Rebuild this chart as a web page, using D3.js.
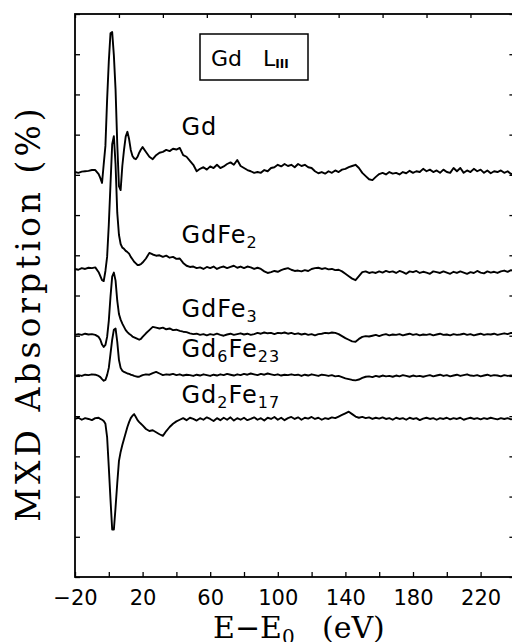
<!DOCTYPE html>
<html>
<head>
<meta charset="utf-8">
<script src="https://cdn.jsdelivr.net/npm/d3@7/dist/d3.min.js"></script>
<style>
  body { margin: 0; background: #fff; }
  svg { display: block; }
</style>
</head>
<body>
<svg id="chart"></svg>
<script>
// photon energy relative to the Gd L3 edge (eV), shared by all spectra
var energy = [
  -20, -18, -16, -14, -12, -10, -8, -6,
  -5, -4, -3, -2, -1, 0, 1, 2, 3, 4, 5, 6, 7, 8, 9, 10, 11, 12, 13, 14, 15, 16, 17, 18, 19, 20,
  22, 24, 26, 28, 30, 32, 34, 36, 38, 40,
  42, 44, 46, 48, 50, 52, 54, 56, 58, 60,
  62, 64, 66, 68, 70, 72, 74, 76, 78, 80,
  82, 84, 86, 88, 90, 92, 94, 96, 98, 100,
  102, 104, 106, 108, 110, 112, 114, 116, 118, 120,
  122, 124, 126, 128, 130, 132, 134, 136, 138, 140,
  142, 144, 146, 148, 150, 152, 154, 156, 158, 160,
  162, 164, 166, 168, 170, 172, 174, 176, 178, 180,
  182, 184, 186, 188, 190, 192, 194, 196, 198, 200,
  202, 204, 206, 208, 210, 212, 214, 216, 218, 220,
  222, 224, 226, 228, 230, 232, 234, 236, 238, 240
];

// MXD signal of each sample, relative to its own baseline
var gd = [
  0.00, -0.02, 0.01, 0.02, 0.03, 0.05, 0.05, -0.05,
  -0.15, -0.27, 0.2, 0.65, 1.8, 2.75, 3.45, 3.48, 2.9, 2.05, 0.7, -0.35, -0.45, 0.15, 0.55, 0.88, 1.0, 0.82, 0.55, 0.4, 0.34, 0.32, 0.38, 0.48, 0.56, 0.62,
  0.5, 0.38, 0.32, 0.42, 0.48, 0.5, 0.55, 0.52, 0.58, 0.56,
  0.6, 0.42, 0.38, 0.28, 0.18, 0.02, 0.08, 0.12, 0.06, 0.14,
  0.1, 0.18, 0.1, 0.14, 0.2, 0.24, 0.18, 0.3, 0.15, 0.1,
  0.05, 0.02, -0.02, 0.0, -0.02, 0.05, 0.02, 0.1, 0.12, 0.18,
  0.14, 0.2, 0.15, 0.18, 0.12, 0.2, 0.15, 0.18, 0.12, 0.1,
  0.02, -0.03, 0.0, -0.04, 0.02, -0.02, 0.04, 0.0, 0.06, 0.08,
  0.12, 0.15, 0.18, 0.1, -0.02, -0.1, -0.18, -0.2, -0.12, -0.05,
  -0.02, -0.06, 0.0, -0.04, -0.02, -0.06, 0.0, -0.03, 0.03, -0.02,
  0.02, 0.0, 0.08, 0.02, 0.06, 0.0, 0.04, -0.02, 0.06, 0.0,
  -0.02, 0.1, 0.02, 0.1, -0.02, 0.04, 0.0, 0.08, 0.02, 0.06,
  -0.02, 0.04, -0.03, 0.02, 0.0, 0.04, -0.02, 0.02, -0.05, -0.02
];

var gdFe2 = [
  0.0, -0.02, 0.02, 0.0, 0.03, 0.02, 0.04, -0.08,
  -0.18, -0.28, -0.3, -0.05, 0.3, 1.1, 2.1, 3.1, 3.3, 2.6, 1.4, 0.85, 0.62, 0.53, 0.5, 0.45, 0.42, 0.38, 0.3, 0.24, 0.18, 0.14, 0.1, 0.1, 0.12, 0.16,
  0.26, 0.4, 0.36, 0.33, 0.34, 0.3, 0.33, 0.28, 0.3, 0.25,
  0.26, 0.15, 0.08, 0.05, 0.06, 0.02, 0.04, 0.0, 0.05, 0.02,
  0.06, 0.0, 0.04, 0.06, 0.02, 0.05, 0.08, 0.03, 0.06, 0.02,
  0.06, 0.04, 0.0, 0.03, 0.0, -0.06, -0.1, -0.08, -0.05, -0.07,
  -0.03, 0.0, 0.02, -0.02, -0.05, -0.04, -0.06, -0.03, -0.05, 0.0,
  0.02, 0.03, 0.0, 0.02, -0.01, 0.0, -0.03, -0.02, -0.06, -0.12,
  -0.18, -0.24, -0.28, -0.18, -0.08, -0.06, -0.1, -0.08, -0.1, -0.06,
  -0.09, -0.05, -0.08, -0.06, -0.1, -0.05, -0.08, -0.12, -0.06, -0.08,
  -0.05, -0.1, -0.07, -0.09, -0.12, -0.06, -0.08, -0.1, -0.06, -0.09,
  -0.12, -0.07, -0.1, -0.06, -0.09, -0.12, -0.08, -0.1, -0.05, -0.09,
  -0.11, -0.06, -0.09, -0.07, -0.1, -0.06, -0.04, -0.07, -0.03, -0.06
];

var gdFe3 = [
  0.0, 0.02, 0.0, 0.03, 0.01, 0.02, 0.0, -0.05,
  -0.12, -0.24, -0.3, -0.25, -0.05, 0.35, 0.95, 1.45, 1.55, 1.35, 0.85, 0.52, 0.38, 0.28, 0.2, 0.12, 0.07, 0.03, 0.0, -0.04, -0.06, -0.08, -0.1, -0.12, -0.1, -0.05,
  0.04, 0.12, 0.2, 0.18, 0.16, 0.18, 0.14, 0.16, 0.12, 0.13,
  0.1, 0.08, 0.07, 0.04, 0.02, 0.03, 0.0, 0.02, -0.01, 0.02,
  0.0, 0.03, 0.0, -0.02, 0.01, 0.03, 0.0, 0.02, 0.04, 0.01,
  0.03, 0.0, 0.02, 0.05, 0.03, 0.06, 0.04, 0.05, 0.02, 0.05,
  0.04, 0.06, 0.03, 0.05, 0.02, 0.04, 0.01, 0.03, 0.0, 0.02,
  -0.01, 0.02, 0.03, 0.05, 0.04, 0.06, 0.05, 0.02, -0.03, -0.08,
  -0.12, -0.16, -0.17, -0.1, -0.05, -0.03, -0.04, -0.02, 0.0, -0.03,
  0.0, 0.02, -0.01, 0.01, 0.0, 0.02, -0.01, 0.01, 0.03, 0.0,
  0.02, -0.01, 0.01, 0.0, 0.02, -0.01, 0.01, 0.03, 0.0, 0.01,
  -0.01, 0.02, 0.0, 0.01, 0.03, 0.0, 0.02, -0.01, 0.01, 0.03,
  0.0, 0.02, 0.01, 0.03, 0.0, 0.02, 0.04, 0.02, 0.05, 0.04
];

var gd6Fe23 = [
  0.0, 0.02, 0.0, 0.03, 0.02, 0.04, 0.03, 0.0,
  -0.03, -0.08, -0.12, -0.1, 0.02, 0.2, 0.55, 0.9, 1.15, 1.18, 0.85, 0.4, 0.2, 0.13, 0.1, 0.08, 0.06, 0.05, 0.03, 0.02, 0.0, -0.01, -0.02, -0.02, 0.0, 0.02,
  0.04, 0.03, 0.07, 0.1, 0.06, 0.02, 0.04, 0.03, 0.05, 0.02,
  0.04, 0.01, 0.03, 0.02, 0.0, 0.03, 0.01, 0.04, 0.02, 0.0,
  0.03, 0.01, 0.04, 0.02, 0.05, 0.03, 0.01, 0.04, 0.02, 0.05,
  0.03, 0.06, 0.04, 0.02, 0.05, 0.03, 0.06, 0.04, 0.02, 0.04,
  0.01, 0.03, 0.02, 0.04, 0.02, 0.03, 0.0, 0.03, 0.01, 0.04,
  0.02, 0.0, 0.03, 0.02, 0.0, 0.02, -0.01, 0.0, -0.03, -0.06,
  -0.08, -0.1, -0.11, -0.09, -0.05, -0.02, -0.01, -0.03, 0.0, -0.02,
  0.01, -0.01, 0.0, -0.02, 0.01, -0.01, 0.02, 0.0, -0.02, 0.01,
  -0.01, 0.0, -0.02, 0.0, 0.02, -0.01, 0.01, 0.03, 0.0, 0.02,
  -0.01, 0.01, 0.03, 0.0, 0.02, 0.04, 0.01, 0.0, 0.02, -0.01,
  0.01, 0.03, 0.0, 0.02, 0.01, -0.01, 0.02, 0.0, 0.01, 0.0
];

var gd2Fe17 = [
  0.0, 0.03, -0.02, 0.02, 0.0, -0.03, 0.02, 0.03,
  0.0, -0.02, -0.05, -0.12, -0.45, -1.2, -2.0, -2.75, -2.75, -2.2, -1.6, -1.05, -0.82, -0.65, -0.5, -0.35, -0.2, -0.08, 0.02, 0.08, 0.12, 0.05, -0.03, -0.08, -0.12, -0.16,
  -0.25, -0.3, -0.28, -0.33, -0.38, -0.42, -0.3, -0.2, -0.12, -0.06,
  -0.02, 0.02, -0.03, 0.03, 0.0, -0.04, 0.02, -0.02, 0.04, 0.0,
  -0.05, 0.02, -0.03, 0.03, -0.02, 0.04, -0.04, 0.02, -0.02, 0.03,
  -0.03, 0.0, 0.04, -0.02, 0.02, -0.04, 0.03, 0.0, 0.05, -0.02,
  0.03, -0.03, 0.02, 0.05, 0.0, 0.04, -0.02, 0.03, 0.01, 0.05,
  0.0, 0.03, -0.02, 0.02, 0.0, 0.04, 0.02, 0.06, 0.1, 0.14,
  0.18, 0.12, 0.06, 0.03, 0.05, 0.02, 0.04, 0.0, 0.03, 0.01,
  0.04, 0.0, 0.02, -0.02, 0.03, 0.0, 0.02, -0.02, 0.03, 0.0,
  0.02, -0.03, 0.01, 0.03, 0.0, 0.02, -0.02, 0.02, 0.0, 0.03,
  -0.01, 0.02, 0.0, 0.03, -0.02, 0.01, 0.03, 0.0, 0.02, -0.01,
  0.02, 0.0, 0.03, 0.01, -0.01, 0.02, 0.0, 0.02, -0.01, 0.01
];

var spectra = [gd, gdFe2, gdFe3, gd6Fe23, gd2Fe17];
var offsets = [10.07, 7.66, 6.02, 5.0, 3.93];

// sample names: pieces of [text, isSubscript]
var names = [
  [["Gd", 0]],
  [["GdFe", 0], ["2", 1]],
  [["GdFe", 0], ["3", 1]],
  [["Gd", 0], ["6", 1], ["Fe", 0], ["23", 1]],
  [["Gd", 0], ["2", 1], ["Fe", 0], ["17", 1]]
];
var nameY = [10.99, 8.31, 6.47, 5.47, 4.33];
var nameE = 43;

var xTicks = [-20, 0, 20, 40, 60, 80, 100, 120, 140, 160, 180, 200, 220, 240];
var xTickLabels = [-20, 20, 60, 100, 140, 180, 220];
var topTicks = [-20, 6, 32, 58, 84, 110, 136, 162, 188, 214, 240];
var yTicks = [0, 1, 2, 3, 4, 5, 6, 7, 8, 9, 10, 11, 12, 13, 14];

function draw() {
  var width = 512, height = 642;
  var left = 75, right = 514.4, top = 14, bottom = 577;

  var svg = d3.select("#chart")
    .attr("width", width)
    .attr("height", height);

  var x = d3.scaleLinear().domain([-20, 240]).range([left, right]);
  var y = d3.scaleLinear().domain([0, 14]).range([bottom, top]);

  /* ------- AXES -------*/
  var bottomAxis = d3.axisBottom(x)
    .tickValues(xTicks)
    .tickSize(-5)
    .tickPadding(13)
    .tickFormat(function(d) {
      if (xTickLabels.indexOf(d) < 0) return "";
      return d < 0 ? "\u2212" + Math.abs(d) : d;
    });

  var gx = svg.append("g")
    .attr("transform", "translate(0," + bottom + ")")
    .call(bottomAxis);
  gx.selectAll("text")
    .attr("font-family", "DejaVu Sans")
    .attr("font-size", 21)
    .attr("fill", "#000");

  svg.append("g")
    .attr("transform", "translate(0," + top + ")")
    .call(d3.axisTop(x).tickValues(topTicks).tickSize(-4).tickFormat(""));

  svg.append("g")
    .attr("transform", "translate(" + left + ",0)")
    .call(d3.axisLeft(y).tickValues(yTicks).tickSize(-5).tickFormat(""));

  svg.append("g")
    .attr("transform", "translate(" + right + ",0)")
    .call(d3.axisRight(y).tickValues(yTicks).tickSize(-5).tickFormat(""));

  svg.selectAll(".domain").remove();
  svg.selectAll(".tick line")
    .attr("stroke", "#000")
    .attr("stroke-width", 1.3);

  svg.append("rect")
    .attr("x", left)
    .attr("y", top)
    .attr("width", right - left)
    .attr("height", bottom - top)
    .attr("fill", "none")
    .attr("stroke", "#000")
    .attr("stroke-width", 1.8);

  /* ------- SPECTRA -------*/
  spectra.forEach(function(values, k) {
    var line = d3.line()
      .x(function(d, i) { return x(energy[i]); })
      .y(function(d) { return y(offsets[k] + d); });

    svg.append("path")
      .datum(values)
      .attr("d", line)
      .attr("fill", "none")
      .attr("stroke", "#000")
      .attr("stroke-width", 1.9)
      .attr("stroke-linejoin", "round");
  });

  /* ------- SAMPLE NAMES -------*/
  names.forEach(function(parts, k) {
    var t = svg.append("text")
      .attr("x", x(nameE))
      .attr("y", y(nameY[k]))
      .attr("font-family", "DejaVu Sans")
      .attr("font-size", 24)
      .attr("letter-spacing", 1)
      .attr("fill", "#000");
    var down = 0;
    parts.forEach(function(p) {
      var shift = p[1] ? 5 - down : -down;
      down += shift;
      t.append("tspan")
        .attr("dy", shift)
        .attr("font-size", p[1] ? 16 : 24)
        .text(p[0]);
    });
  });

  /* ------- EDGE BOX -------*/
  svg.append("rect")
    .attr("x", 200)
    .attr("y", 34)
    .attr("width", 108)
    .attr("height", 46)
    .attr("fill", "none")
    .attr("stroke", "#000")
    .attr("stroke-width", 1.5);

  svg.append("text")
    .attr("x", 211)
    .attr("y", 66)
    .attr("font-family", "DejaVu Sans")
    .attr("font-size", 22)
    .text("Gd");

  var edge = svg.append("text")
    .attr("x", 263)
    .attr("y", 66)
    .attr("font-family", "DejaVu Sans")
    .attr("font-size", 22);
  edge.append("tspan").text("L");
  edge.append("tspan")
    .attr("dy", 2)
    .attr("font-size", 12)
    .attr("font-weight", "bold")
    .text("III");

  /* ------- AXIS TITLES -------*/
  svg.append("text")
    .attr("transform", "translate(40,313) rotate(-90)")
    .attr("text-anchor", "middle")
    .attr("font-family", "DejaVu Serif")
    .attr("font-size", 33)
    .attr("letter-spacing", 4)
    .text("MXD Absorption (%)");

  var xt = svg.append("text")
    .attr("x", 213)
    .attr("y", 638)
    .attr("font-family", "DejaVu Serif")
    .attr("font-size", 30);
  xt.append("tspan").text("E\u2212E");
  xt.append("tspan").attr("dy", 6).attr("font-size", 20).text("0");
  xt.append("tspan").attr("dy", -6).attr("x", 322).text("(eV)");
}

draw();
</script>
</body>
</html>
